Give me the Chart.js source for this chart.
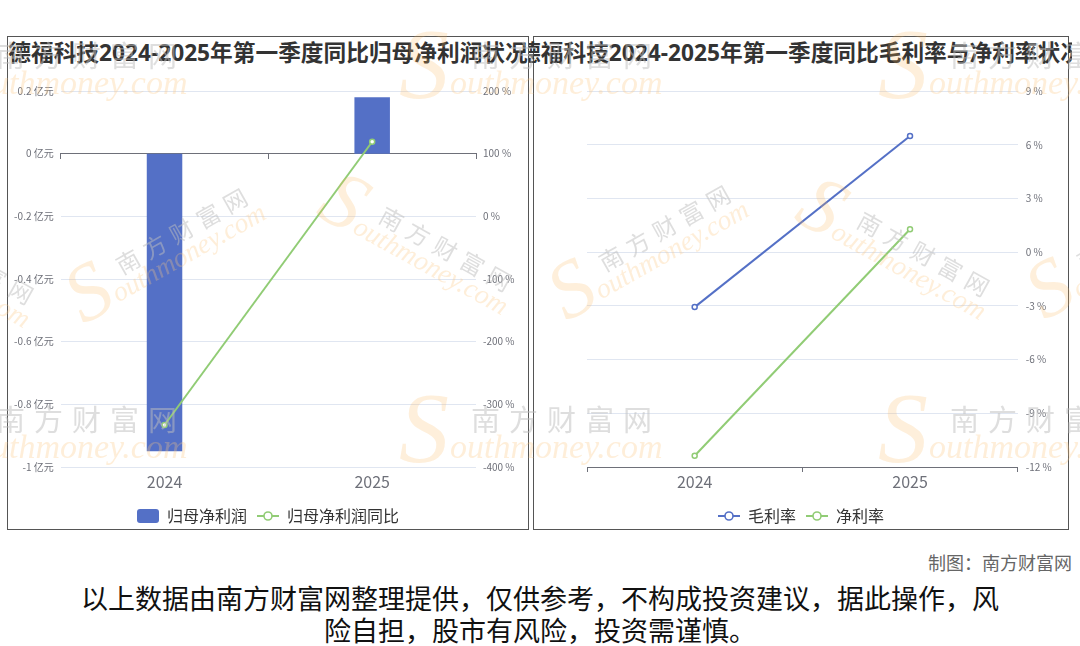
<!DOCTYPE html>
<html>
<head>
<meta charset="utf-8">
<script src="https://cdn.jsdelivr.net/npm/chart.js@4.4.1/dist/chart.umd.min.js"></script>
<style>
  html, body { margin: 0; padding: 0; background: #fff; }
  body { width: 1080px; height: 646px; overflow: hidden; position: relative;
         font-family: "Noto Sans CJK SC", "Noto Sans", sans-serif; }
  .box { position: absolute; top: 36px; height: 494px; border: 1px solid #555; box-sizing: border-box; }
  #boxL { left: 7px; width: 522px; }
  #boxR { left: 533px; width: 536px; }
  .ttlClip { position: absolute; top: 36px; height: 34px; overflow: hidden; }
  #ttlClipL { left: 0; width: 529px; }
  #ttlClipR { left: 529px; width: 543px; }
  .ttl { position: absolute; top: 0; white-space: nowrap; font-weight: 700; font-size: 22.7px;
         font-family: "Noto Sans", "Noto Sans CJK SC", sans-serif;
         color: #333; line-height: 34px; transform: translateX(-50%); }
  canvas { position: absolute; }
  #cL { left: 8px; top: 37px; }
  #cR { left: 534px; top: 37px; }
  #wmLayer { position: absolute; left: 0; top: 0; width: 1080px; height: 540px; overflow: hidden; pointer-events: none; }
  .wm { position: absolute; width: 0; height: 0; transform-origin: 0 0; }
  .wm span { position: absolute; white-space: nowrap; }
  .wm .cn { left: 0; top: -17px; font-size: 29px; line-height: 34px; letter-spacing: 9px;
            color: rgba(190,190,190,0.5); font-family: "Noto Sans CJK SC", sans-serif; }
  .wm .en { left: -21px; top: 12px; font-size: 34px; line-height: 34px; font-style: italic;
            color: rgba(252,200,130,0.3); font-family: "Liberation Serif", serif; }
  .wm .s { left: -72px; top: -40px; font-size: 100px; line-height: 100px; font-style: italic;
           color: rgba(250,180,90,0.22); font-family: "Liberation Serif", serif; }
  #credit { position: absolute; right: 8px; top: 552px; font-size: 18px; line-height: 20px; color: #666; }
  #note { position: absolute; left: 0; width: 1080px; top: 582px; text-align: center;
          font-size: 27px; line-height: 32px; color: #111; }
</style>
</head>
<body>
<div class="box" id="boxL"></div>
<div class="box" id="boxR"></div>
<div class="ttlClip" id="ttlClipL"><div class="ttl" style="left:268px">德福科技2024-2025年第一季度同比归母净利润状况</div></div>
<div class="ttlClip" id="ttlClipR"><div class="ttl" style="left:271.5px">德福科技2024-2025年第一季度同比毛利率与净利率状况</div></div>

<canvas id="cL" width="520" height="500"></canvas>
<canvas id="cR" width="534" height="500"></canvas>

<div id="wmLayer"></div>

<div id="credit">制图：南方财富网</div>
<div id="note">以上数据由南方财富网整理提供，仅供参考，不构成投资建议，据此操作，风<br>险自担，股市有风险，投资需谨慎。</div>

<script>
// ---- data ----
const years = ['2024', '2025'];
const netProfit = [-0.95, 0.18];        // 归母净利润, 亿元
const netProfitYoY = [-333, 119];       // 归母净利润同比, %
const grossMargin = [-3.07, 6.49];      // 毛利率, %
const netMargin = [-11.37, 1.28];       // 净利率, %

const profitAxis = { min: -1, max: 0.2, step: 0.2, unit: ' 亿元' };
const yoyAxis = { min: -400, max: 200, step: 100, unit: ' %' };
const marginAxis = { min: -12, max: 9, step: 3, unit: ' %' };

// ---- styling ----
const FONT = '"Noto Sans CJK SC", "Noto Sans", sans-serif';
const BLUE = '#5470c6';
const GREEN = '#91cc75';
const AXIS_TEXT = '#6e7079';
const GRID = '#e0e6f1';
const AXIS_LINE = '#6e7079';

Chart.defaults.font.family = FONT;
Chart.defaults.animation = false;

const fmt = v => String(Math.round(v * 10) / 10);

// legend icons
function rectIcon(color) {
  const c = document.createElement('canvas');
  c.width = 22; c.height = 14;
  const g = c.getContext('2d');
  g.fillStyle = color;
  g.beginPath();
  g.roundRect(0, 0, 22, 14, 3);
  g.fill();
  return c;
}
function lineIcon(color) {
  const c = document.createElement('canvas');
  c.width = 22; c.height = 12;
  const g = c.getContext('2d');
  g.strokeStyle = color;
  g.lineWidth = 2;
  g.beginPath(); g.moveTo(0, 6); g.lineTo(22, 6); g.stroke();
  g.fillStyle = '#fff';
  g.beginPath(); g.arc(11, 6, 4, 0, Math.PI * 2); g.fill();
  g.lineWidth = 1.6;
  g.stroke();
  return c;
}

function legendOpts(icons) {
  return {
    position: 'bottom',
    labels: {
      usePointStyle: true,
      pointStyleWidth: 22,
      padding: 10,
      color: '#333',
      font: { size: 16, family: FONT },
      sort: (a, b) => a.datasetIndex - b.datasetIndex,
      generateLabels(chart) {
        const items = Chart.defaults.plugins.legend.labels.generateLabels(chart);
        items.forEach(it => { it.pointStyle = icons[it.datasetIndex]; });
        return items;
      }
    }
  };
}

const tickFont = { size: 10, family: FONT };
const catFont = { size: 16, family: FONT };

// ---- 归母净利润 chart ----
new Chart(document.getElementById('cL'), {
  type: 'bar',
  data: {
    labels: years,
    datasets: [
      {
        type: 'bar', label: '归母净利润', data: netProfit,
        backgroundColor: BLUE, yAxisID: 'y', xAxisID: 'x',
        barPercentage: 0.171, categoryPercentage: 1, order: 2
      },
      {
        type: 'line', label: '归母净利润同比', data: netProfitYoY,
        borderColor: GREEN, borderWidth: 2, yAxisID: 'y1', xAxisID: 'x',
        pointRadius: 2.5, pointBorderWidth: 1.5, pointBackgroundColor: '#fff',
        pointBorderColor: GREEN, order: 1
      }
    ]
  },
  options: {
    responsive: false,
    devicePixelRatio: 1,
    layout: { padding: { top: 54, bottom: 3, left: 0, right: 0 } },
    plugins: { legend: legendOpts([rectIcon(BLUE), lineIcon(GREEN)]), tooltip: { enabled: false } },
    scales: {
      x: {
        position: 'bottom', offset: true,
        grid: { display: false, drawTicks: false },
        border: { display: false },
        ticks: { color: AXIS_TEXT, font: catFont, padding: 5 },
        afterFit(s) { s.height = 31; }
      },
      xZero: {
        type: 'category', position: { y: 0 }, offset: true,
        grid: { offset: true, drawOnChartArea: false, drawTicks: true, tickLength: 5, color: AXIS_LINE },
        border: { display: true, color: AXIS_LINE, width: 1 },
        ticks: { display: false },
        afterFit(s) { s.height = 0; }
      },
      y: {
        position: 'left', min: profitAxis.min, max: profitAxis.max,
        ticks: { stepSize: profitAxis.step, color: AXIS_TEXT, font: tickFont, padding: 7,
                 callback: v => fmt(v) + profitAxis.unit },
        grid: { drawTicks: false,
                color: c => (c.tick && Math.abs(c.tick.value) < 1e-9) ? 'rgba(0,0,0,0)' : GRID },
        border: { display: false },
        afterFit(s) { s.width = 52.7; }
      },
      y1: {
        position: 'right', min: yoyAxis.min, max: yoyAxis.max,
        ticks: { stepSize: yoyAxis.step, color: AXIS_TEXT, font: tickFont, padding: 7,
                 callback: v => fmt(v) + yoyAxis.unit },
        grid: { drawOnChartArea: false, drawTicks: false },
        border: { display: false },
        afterFit(s) { s.width = 52; }
      }
    }
  }
});

// ---- 毛利率 / 净利率 chart ----
new Chart(document.getElementById('cR'), {
  type: 'line',
  data: {
    labels: years,
    datasets: [
      {
        label: '毛利率', data: grossMargin, borderColor: BLUE, borderWidth: 2, yAxisID: 'y',
        pointRadius: 2.5, pointBorderWidth: 1.5, pointBackgroundColor: '#fff', pointBorderColor: BLUE
      },
      {
        label: '净利率', data: netMargin, borderColor: GREEN, borderWidth: 2, yAxisID: 'y',
        pointRadius: 2.5, pointBorderWidth: 1.5, pointBackgroundColor: '#fff', pointBorderColor: GREEN
      }
    ]
  },
  options: {
    responsive: false,
    devicePixelRatio: 1,
    layout: { padding: { top: 54, bottom: 3, left: 0, right: 0 } },
    plugins: { legend: legendOpts([lineIcon(BLUE), lineIcon(GREEN)]), tooltip: { enabled: false } },
    scales: {
      x: {
        offset: true,
        grid: { offset: true, drawOnChartArea: false, drawTicks: true, tickLength: 5, color: AXIS_LINE },
        border: { display: true, color: AXIS_LINE, width: 1 },
        ticks: { color: AXIS_TEXT, font: catFont, padding: 0.4 },
        afterFit(s) { s.height = 31; }
      },
      yGap: {
        position: 'left', display: true,
        ticks: { display: false },
        grid: { display: false, drawTicks: false },
        border: { display: false },
        afterFit(s) { s.width = 53; }
      },
      y: {
        position: 'right', min: marginAxis.min, max: marginAxis.max,
        ticks: { stepSize: marginAxis.step, color: AXIS_TEXT, font: tickFont, padding: 8,
                 callback: v => fmt(v) + marginAxis.unit },
        grid: { drawTicks: false,
                color: c => (c.tick && c.tick.value === marginAxis.min) ? 'rgba(0,0,0,0)' : GRID },
        border: { display: false },
        afterFit(s) { s.width = 50.3; }
      }
    }
  }
});

// ---- site watermark ----
const wmFlat = [[-4, 54], [471, 54], [950, 54], [-4, 418], [471, 418], [950, 418]];
const wmTilted = [[-96, 225, 29], [382, 212, 29], [860, 217, 29], [117, 266, -29.5], [600, 263, -29.5], [1078, 262, -29.5]];
const layer = document.getElementById('wmLayer');
function addMark(x, y, rot, scale) {
  const d = document.createElement('div');
  d.className = 'wm';
  d.style.left = x + 'px';
  d.style.top = y + 'px';
  if (rot) d.style.transform = 'rotate(' + rot + 'deg) scale(' + scale + ')';
  d.innerHTML = '<span class="s">S</span><span class="cn">南方财富网</span><span class="en">outhmoney.com</span>';
  layer.appendChild(d);
}
wmFlat.forEach(p => addMark(p[0], p[1], 0, 1));
wmTilted.forEach(p => addMark(p[0], p[1], p[2], 0.81));
</script>
</body>
</html>
